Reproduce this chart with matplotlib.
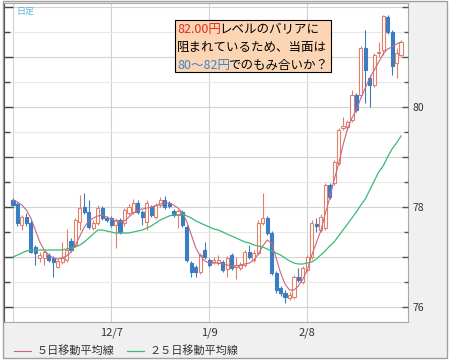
import matplotlib
matplotlib.use("Agg")
import matplotlib.pyplot as plt
from matplotlib.patches import Rectangle
from matplotlib.text import Annotation
from matplotlib.ticker import MultipleLocator, FixedLocator, FixedFormatter
import numpy as np

plt.rcParams['font.family'] = ['Noto Sans CJK JP', 'DejaVu Sans']

# daily candles (one per trading day)
opens = [78.14, 78.06, 77.64, 77.80, 77.68, 77.20, 76.98, 76.98, 77.04, 76.98,
         76.80, 76.90, 76.94, 77.32, 77.24, 77.70, 78.00, 77.90, 77.58, 77.68,
         77.98, 77.78, 77.78, 77.64, 77.74, 77.68, 77.88, 77.90, 78.08, 77.90,
         77.70, 78.00, 77.80, 78.04, 78.14, 78.08, 77.92, 77.84, 77.90, 77.60,
         76.88, 76.80, 76.70, 77.14, 76.94, 76.90, 76.88, 76.90, 76.76, 77.04,
         76.80, 76.78, 76.84, 77.10, 76.94, 77.08, 77.68, 77.78, 77.48, 76.68,
         76.38, 76.28, 76.18, 76.20, 76.60, 76.50, 76.74, 77.00, 77.66, 77.54,
         77.58, 78.44, 78.48, 78.88, 79.58, 79.60, 79.74, 80.24, 80.24, 81.18,
         80.58, 80.44, 81.08, 81.14, 81.80, 81.50, 80.88, 81.04]
closes = [78.04, 77.68, 77.80, 77.68, 77.10, 77.08, 77.04, 77.10, 76.94, 76.90,
          76.92, 76.98, 77.14, 77.14, 77.74, 77.98, 77.90, 77.60, 77.68, 77.98,
          77.78, 77.74, 77.64, 77.74, 77.50, 77.94, 78.00, 78.08, 77.90, 77.80,
          78.08, 77.84, 78.04, 78.14, 78.00, 78.02, 77.84, 77.92, 77.64, 76.94,
          76.70, 76.70, 77.04, 77.00, 76.84, 76.94, 76.94, 76.74, 76.98, 76.78,
          76.84, 76.84, 77.10, 77.00, 77.08, 77.68, 77.78, 77.48, 76.68, 76.34,
          76.28, 76.20, 76.24, 76.60, 76.54, 76.78, 77.00, 77.68, 77.62, 77.80,
          78.44, 78.20, 78.90, 79.54, 79.62, 79.70, 80.24, 79.94, 81.18, 80.74,
          80.44, 81.04, 81.10, 81.82, 81.50, 80.82, 81.08, 81.30]
highs = [78.18, 78.10, 77.84, 77.88, 77.74, 77.24, 77.10, 77.14, 77.08, 77.02,
         76.96, 77.30, 77.56, 77.38, 77.78, 78.24, 78.28, 78.14, 77.74, 78.04,
         78.02, 77.82, 77.82, 77.78, 77.78, 77.98, 78.06, 78.16, 78.14, 77.94,
         78.14, 78.04, 78.08, 78.20, 78.22, 78.12, 77.96, 77.96, 77.94, 77.64,
         76.92, 76.84, 77.08, 77.30, 76.98, 77.00, 77.04, 76.94, 77.02, 77.08,
         77.00, 76.90, 77.14, 77.24, 77.14, 77.74, 78.28, 77.82, 77.52, 76.72,
         76.42, 76.34, 76.30, 76.64, 76.78, 76.82, 77.04, 77.74, 77.78, 77.86,
         78.48, 78.48, 78.94, 79.58, 79.80, 79.74, 80.34, 80.28, 81.22, 81.54,
         80.64, 81.08, 81.30, 81.84, 81.84, 81.54, 81.18, 81.34]
lows = [78.00, 77.62, 77.54, 77.62, 77.08, 76.84, 76.90, 76.84, 76.90, 76.60,
        76.78, 76.86, 76.90, 77.10, 77.20, 77.54, 77.86, 77.56, 77.54, 77.64,
        77.74, 77.70, 77.60, 77.18, 77.46, 77.62, 77.84, 77.86, 77.86, 77.64,
        77.54, 77.80, 77.76, 78.00, 77.96, 77.98, 77.80, 77.58, 77.60, 76.90,
        76.60, 76.60, 76.66, 76.96, 76.80, 76.86, 76.84, 76.70, 76.60, 76.74,
        76.56, 76.74, 76.80, 76.96, 76.90, 77.04, 77.64, 77.44, 76.64, 76.28,
        76.22, 76.08, 76.14, 76.16, 76.50, 76.46, 76.70, 76.96, 77.50, 77.50,
        77.54, 78.16, 78.44, 78.84, 79.54, 79.54, 79.70, 79.90, 80.20, 80.08,
        80.00, 80.40, 81.00, 81.04, 81.46, 80.64, 80.58, 81.00]

# moving average lines as drawn on the chart
ma5 = [78.14, 78.10, 78.04, 77.94, 77.78, 77.54, 77.30, 77.14, 77.04, 76.98,
       76.96, 76.98, 77.02, 77.10, 77.24, 77.42, 77.60, 77.72, 77.78, 77.82,
       77.84, 77.80, 77.76, 77.72, 77.70, 77.72, 77.80, 77.88, 77.94, 77.96,
       77.98, 78.00, 78.02, 78.06, 78.08, 78.08, 78.04, 77.98, 77.88, 77.70,
       77.44, 77.18, 77.02, 76.92, 76.88, 76.88, 76.88, 76.86, 76.84, 76.82,
       76.82, 76.84, 76.86, 76.88, 76.94, 77.06, 77.22, 77.34, 77.28, 76.98,
       76.68, 76.46, 76.34, 76.34, 76.42, 76.56, 76.74, 77.04, 77.28, 77.52,
       77.86, 78.18, 78.54, 78.86, 79.24, 79.56, 79.78, 79.94, 80.18, 80.38,
       80.58, 80.74, 80.90, 81.06, 81.16, 81.20, 81.26, 81.30]
ma25 = [77.00, 77.04, 77.08, 77.12, 77.14, 77.14, 77.14, 77.14, 77.14, 77.14,
        77.14, 77.14, 77.16, 77.18, 77.20, 77.24, 77.30, 77.38, 77.46, 77.54,
        77.54, 77.52, 77.50, 77.48, 77.48, 77.48, 77.48, 77.50, 77.52, 77.54,
        77.58, 77.62, 77.68, 77.74, 77.78, 77.82, 77.84, 77.84, 77.86, 77.82,
        77.78, 77.72, 77.68, 77.64, 77.60, 77.56, 77.54, 77.50, 77.46, 77.42,
        77.38, 77.34, 77.30, 77.28, 77.24, 77.22, 77.20, 77.16, 77.12, 77.08,
        77.04, 76.98, 76.92, 76.88, 76.86, 76.86, 76.88, 76.90, 76.96, 77.04,
        77.12, 77.22, 77.30, 77.42, 77.54, 77.66, 77.78, 77.90, 78.04, 78.16,
        78.34, 78.52, 78.70, 78.82, 79.00, 79.16, 79.28, 79.42]

date_ticks = [0, 22, 44, 66]
date_labels = ['', '12/7', '1/9', '2/8']
price_ticks = [76, 77, 78, 79, 80, 81, 82]
price_labels = ['76', '', '78', '', '80', '', '']

UP_COL = '#e0806a'
DOWN_COL = '#3b7dc2'
MA5_COL = '#cc6680'
MA25_COL = '#3cb878'

W, H = 452, 363
fig = plt.figure(figsize=(W / 100, H / 100), dpi=100)
fig.patch.set_facecolor('white')
fig.patches.append(Rectangle((3 / W, 1 - 358 / H), 444 / W, 357 / H,
                             transform=fig.transFigure, facecolor='#f0f0f0',
                             edgecolor='#a0a0a0', lw=1, zorder=-1))

ax = fig.add_axes([4 / W, 1 - 322 / H, 404 / W, 319 / H])

o = np.array(opens); c = np.array(closes)
hi = np.array(highs); lo = np.array(lows)
x = np.arange(len(o))
up = c >= o
cols = np.where(up, UP_COL, DOWN_COL)

ax.vlines(x, lo, hi, colors=cols, lw=0.8, zorder=2)
ax.bar(x, np.maximum(np.abs(c - o), 0.02), bottom=np.minimum(o, c), width=0.7,
       color=np.where(up, 'white', DOWN_COL), edgecolor=cols, linewidth=0.8, zorder=3)
l5, = ax.plot(x, ma5, color=MA5_COL, lw=0.8, zorder=4)
l25, = ax.plot(x, ma25, color=MA25_COL, lw=0.9, zorder=4)

ax.set_xlim(-2.02, 88.57)
ax.set_ylim(75.70, 82.08)

ax.xaxis.set_major_locator(FixedLocator(date_ticks))
ax.xaxis.set_major_formatter(FixedFormatter(date_labels))
ax.tick_params(axis='x', length=0, pad=4, labelsize=8, labelcolor='#333333')
ax.yaxis.set_major_locator(FixedLocator(price_ticks))
ax.yaxis.set_minor_locator(MultipleLocator(0.5))
ax.tick_params(axis='y', which='major', direction='in', length=6.5, width=1,
               color='#444444', labelleft=False)
ax.tick_params(axis='y', which='minor', direction='in', length=4.5, width=1,
               color='#444444')
ax.grid(True, which='major', color='#d2d2d2', lw=0.8)
ax.grid(True, which='minor', axis='y', color='#e8e8e8', lw=0.8)
ax.set_axisbelow(True)
for side in ['top', 'bottom', 'right']:
    ax.spines[side].set_color('#a8a8a8')
    ax.spines[side].set_linewidth(0.8)
ax.spines['left'].set_color('#555555')

ax2 = ax.twinx()
ax2.set_ylim(ax.get_ylim())
ax2.yaxis.set_major_locator(FixedLocator(price_ticks))
ax2.yaxis.set_major_formatter(FixedFormatter(price_labels))
ax2.yaxis.set_minor_locator(MultipleLocator(0.5))
ax2.tick_params(axis='y', which='major', direction='in', length=4.5, width=1,
                color='#555555', labelsize=7.5, labelcolor='#333333', pad=3)
ax2.tick_params(axis='y', which='minor', direction='in', length=2.8, width=1,
                color='#555555')
for s in ax2.spines.values():
    s.set_visible(False)

ax.legend([l5, l25], ['５日移動平均線', '２５日移動平均線'], loc='center left',
          bbox_to_anchor=(14 / W, 1 - 351 / H), bbox_transform=fig.transFigure,
          ncol=2, frameon=False, fontsize=8, handlelength=1.5,
          handletextpad=0.5, columnspacing=1.2, borderpad=0, borderaxespad=0,
          labelcolor='#333333')

fig.text(16 / W, 1 - 11 / H, '日足', color='#56b4e0', fontsize=6.5, va='center')

# comment box
fig.add_artist(Rectangle((175 / W, 1 - 72 / H), 156 / W, 52 / H,
                         transform=fig.transFigure, facecolor='#fcd5b4',
                         edgecolor='black', lw=0.8, zorder=2))
box_lines = [
    [('82.00円', '#e8281e'), ('レベルのバリアに', 'black')],
    [('阻まれているため、当面は', 'black')],
    [('80～82円', '#3a86c8'), ('でのもみ合いか？', 'black')],
]
for k, parts in enumerate(box_lines):
    prev = None
    for s, col in parts:
        if prev is None:
            prev = fig.text(177 / W, 1 - (33 + 18 * k) / H, s, color=col,
                            fontsize=9, va='baseline', zorder=3)
        else:
            a = Annotation(s, xy=(1, 0), xycoords=prev, xytext=(-1.5, 0),
                           textcoords='offset points', va='bottom', ha='left',
                           color=col, fontsize=9, zorder=3)
            fig.add_artist(a)
            prev = a

fig.savefig('out.png', dpi=100, facecolor=fig.get_facecolor())
